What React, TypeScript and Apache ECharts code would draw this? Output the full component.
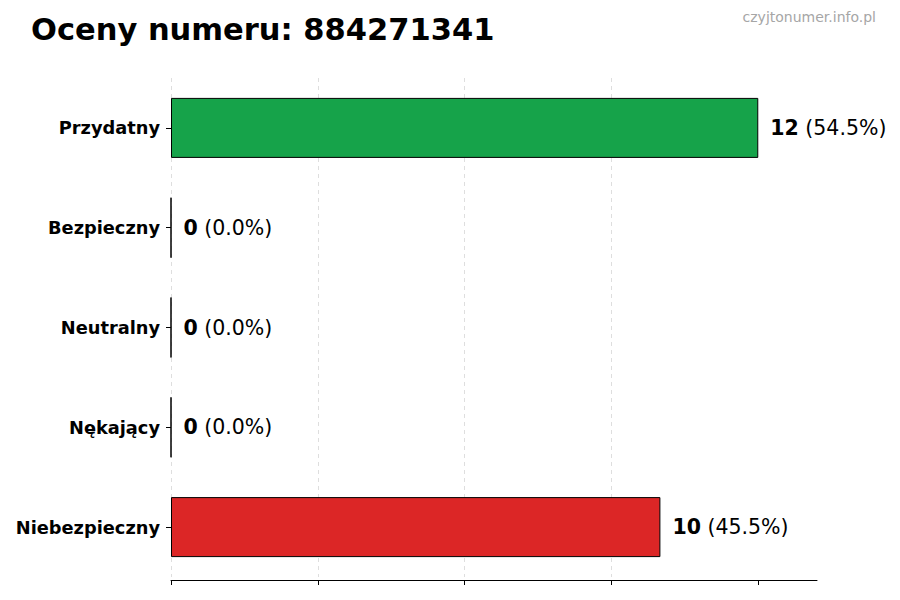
import { useEffect, useRef } from "react";
import * as echarts from "echarts";

const TITLE = "Oceny numeru: 884271341";
const WATERMARK = "czyjtonumer.info.pl";
const CATEGORIES = ["Przydatny", "Bezpieczny", "Neutralny", "Nękający", "Niebezpieczny"];
const COUNTS = [12, 0, 0, 0, 10];
const BAR_COLORS = ["#16a34a", "#2563eb", "#9ca3af", "#f97316", "#dc2626"];
const X_TICKS = [0, 3, 6, 9, 12];
const X_MAX = 13.2;

const FONT = "DejaVu Sans";

export default function App() {
  const chartRef = useRef<HTMLDivElement>(null);

  useEffect(() => {
    document.body.style.margin = "0";
    if (!chartRef.current) return;
    const chart = echarts.init(chartRef.current, undefined, { renderer: "svg" });

    const total = COUNTS.reduce((a, b) => a + b, 0);

    const option: echarts.EChartsOption = {
      animation: false,
      backgroundColor: "#ffffff",
      textStyle: { fontFamily: FONT },
      title: {
        text: TITLE,
        left: 31,
        top: 14,
        padding: 0,
        textStyle: { fontFamily: FONT, fontSize: 30.5, fontWeight: "bold", color: "#000" },
      },
      graphic: [
        {
          type: "text",
          right: 24,
          top: 10,
          style: { text: WATERMARK, fontFamily: FONT, fontSize: 14, fill: "#a6a6a6" },
        },
      ],
      grid: { left: 171, right: 83, top: 78, bottom: 23, containLabel: false },
      xAxis: {
        type: "value",
        min: 0,
        max: X_MAX,
        offset: 3,
        axisLine: { show: true, lineStyle: { color: "#000", width: 1 } },
        axisTick: {
          show: true,
          length: 5,
          customValues: X_TICKS,
          lineStyle: { color: "#000", width: 1 },
        },
        axisLabel: { show: false },
        splitLine: {
          show: true,
          showMaxLine: false,
          lineStyle: { color: "#d6d6d6", type: [4, 4], width: 0.8 },
        },
      },
      yAxis: {
        type: "category",
        data: CATEGORIES,
        inverse: true,
        axisLine: { show: false },
        axisTick: { show: true, alignWithLabel: true, length: 5, lineStyle: { color: "#000" } },
        axisLabel: {
          margin: 11,
          fontFamily: FONT,
          fontSize: 17.8,
          fontWeight: "bold",
          color: "#000",
        },
        splitLine: { show: false },
      },
      series: [
        {
          type: "bar",
          barWidth: 60,
          data: COUNTS.map((v, i) => ({
            value: v,
            itemStyle: { color: BAR_COLORS[i], borderColor: "#000", borderWidth: 1 },
          })),
          label: {
            show: true,
            position: "right",
            distance: 12,
            formatter: (p: any) =>
              `{b|${p.value}}{n| (${((p.value / total) * 100).toFixed(1)}%)}`,
            rich: {
              b: { fontFamily: FONT, fontSize: 20.5, fontWeight: "bold", color: "#000" },
              n: { fontFamily: FONT, fontSize: 20.5, color: "#000" },
            },
          },
        },
      ],
    };

    chart.setOption(option);
    return () => chart.dispose();
  }, []);

  return <div ref={chartRef} style={{ width: 900, height: 600 }} />;
}
